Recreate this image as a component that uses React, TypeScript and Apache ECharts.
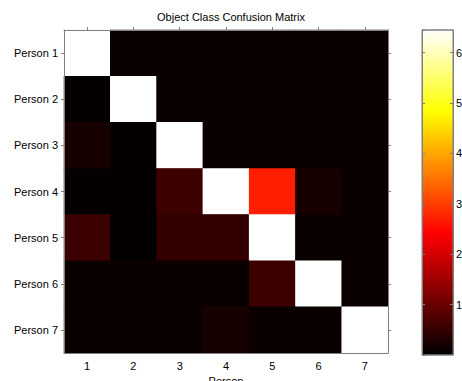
import React, { useEffect, useRef } from "react";
import * as echarts from "echarts";

const rowLabels = ["Person 1", "Person 2", "Person 3", "Person 4", "Person 5", "Person 6", "Person 7"];
const colLabels = ["1", "2", "3", "4", "5", "6", "7"];
const row1 = [6.45, 0.1, 0.1, 0.1, 0.1, 0.1, 0.1];
const row2 = [0.05, 6.45, 0.1, 0.1, 0.1, 0.1, 0.1];
const row3 = [0.22, 0.05, 6.45, 0.1, 0.1, 0.1, 0.1];
const row4 = [0.05, 0.05, 0.58, 6.45, 2.7, 0.22, 0.1];
const row5 = [0.58, 0.05, 0.48, 0.48, 6.45, 0.1, 0.1];
const row6 = [0.1, 0.1, 0.1, 0.1, 0.58, 6.45, 0.1];
const row7 = [0.1, 0.1, 0.1, 0.22, 0.1, 0.1, 6.45];
const matrix = [row1, row2, row3, row4, row5, row6, row7];
const colorMin = 0;
const colorMax = 6.45;
const hotColors = ["#000000", "#550000", "#aa0000", "#ff0000", "#ff5500", "#ffaa00", "#ffff00", "#ffff80", "#ffffff"];

const FONT = "Liberation Sans, Arial, sans-serif";
const GRAY = "#7f7f7f";

export default function App() {
  const ref = useRef<HTMLDivElement>(null);
  useEffect(() => {
    if (!ref.current) return;
    const chart = echarts.init(ref.current, null, { renderer: "svg" });
    const data: number[][] = [];
    matrix.forEach((row, r) => row.forEach((v, c) => data.push([c, r, v])));
    const cb = { left: 422, top: 30, width: 31, height: 325 };
    const gradStops = hotColors.map((c, i) => ({ offset: 1 - i / (hotColors.length - 1), color: c }));
    chart.setOption({
      animation: false,
      backgroundColor: "#ffffff",
      textStyle: { fontFamily: FONT },
      title: {
        text: "Object Class Confusion Matrix",
        left: 226,
        top: 6,
        textAlign: "center",
        textStyle: { fontSize: 11, fontWeight: "normal", color: "#000", fontFamily: FONT },
      },
      grid: [
        {
          left: 64, top: 30, width: 324, height: 323,
          containLabel: false, outerBoundsMode: "none",
          show: true, backgroundColor: "#0a0000", borderWidth: 0,
        },
        {
          left: cb.left, top: cb.top, width: cb.width, height: cb.height,
          containLabel: false, outerBoundsMode: "none",
        },
      ],
      xAxis: [
        {
          type: "category",
          data: colLabels,
          gridIndex: 0,
          position: "bottom",
          axisLine: { show: true, lineStyle: { color: GRAY, width: 1 } },
          axisTick: { show: false },
          axisLabel: { fontSize: 11, color: "#000", margin: 7, fontFamily: FONT },
          name: "Person",
          nameLocation: "middle",
          nameGap: 21,
          nameTextStyle: { fontSize: 11, color: "#000", fontFamily: FONT },
          splitLine: { show: false },
          z: 5,
        },
        {
          type: "category",
          data: colLabels,
          gridIndex: 0,
          position: "top",
          axisLine: { show: true, lineStyle: { color: GRAY, width: 1 } },
          axisTick: { show: true, alignWithLabel: true, inside: false, length: 3, lineStyle: { color: GRAY } },
          axisLabel: { show: false },
          splitLine: { show: false },
          z: 5,
        },
        { type: "category", data: ["c"], gridIndex: 1, show: false },
      ],
      yAxis: [
        {
          type: "category",
          data: rowLabels,
          inverse: true,
          gridIndex: 0,
          position: "left",
          axisLine: { show: true, lineStyle: { color: GRAY, width: 1 } },
          axisTick: { show: true, alignWithLabel: true, inside: false, length: 3, lineStyle: { color: GRAY } },
          axisLabel: { fontSize: 11, color: "#000", margin: 6, fontFamily: FONT },
          splitLine: { show: false },
          z: 5,
        },
        {
          type: "category",
          data: rowLabels,
          inverse: true,
          gridIndex: 0,
          position: "right",
          axisLine: { show: true, lineStyle: { color: GRAY, width: 1 } },
          axisTick: { show: true, alignWithLabel: true, inside: false, length: 3, lineStyle: { color: GRAY } },
          axisLabel: { show: false },
          splitLine: { show: false },
          z: 5,
        },
        {
          type: "value",
          gridIndex: 1,
          position: "right",
          offset: 0,
          min: colorMin,
          max: colorMax,
          interval: 1,
          axisLine: { show: true, onZero: false, lineStyle: { color: GRAY, width: 1 } },
          axisTick: { show: true, inside: true, length: 3, lineStyle: { color: GRAY } },
          axisLabel: {
            fontSize: 11,
            color: "#000",
            margin: 3,
            fontFamily: FONT,
            showMaxLabel: false,
            showMinLabel: false,
            formatter: (v: number) => (Number.isInteger(v) && v > 0 ? String(v) : ""),
          },
          splitLine: { show: false },
          z: 5,
        },
        {
          type: "value",
          gridIndex: 1,
          position: "left",
          offset: 0,
          min: colorMin,
          max: colorMax,
          interval: 1,
          axisLine: { show: true, onZero: false, lineStyle: { color: GRAY, width: 1 } },
          axisTick: { show: true, inside: true, length: 3, lineStyle: { color: GRAY } },
          axisLabel: { show: false },
          splitLine: { show: false },
          z: 5,
        },
      ],
      visualMap: {
        show: false,
        type: "continuous",
        min: colorMin,
        max: colorMax,
        seriesIndex: 0,
        inRange: { color: hotColors },
      },
      graphic: [
        {
          type: "rect",
          z: -1,
          shape: { x: cb.left, y: cb.top, width: cb.width, height: cb.height },
          style: {
            fill: new echarts.graphic.LinearGradient(0, 0, 0, 1, gradStops.slice().reverse()),
            stroke: GRAY,
            lineWidth: 1,
          },
        },
        {
          type: "line",
          z: 10,
          shape: { x1: cb.left, y1: cb.top, x2: cb.left + cb.width, y2: cb.top },
          style: { stroke: GRAY, lineWidth: 1 },
        },
        {
          type: "line",
          z: 10,
          shape: { x1: cb.left, y1: cb.top + cb.height, x2: cb.left + cb.width, y2: cb.top + cb.height },
          style: { stroke: GRAY, lineWidth: 1 },
        },
      ],
      series: [
        {
          type: "heatmap",
          xAxisIndex: 0,
          yAxisIndex: 0,
          data,
          itemStyle: { borderWidth: 0 },
          emphasis: { disabled: true },
          z: 1,
        },
      ],
    });
    return () => chart.dispose();
  }, []);
  return <div ref={ref} style={{ position: "fixed", left: 0, top: 0, width: 462, height: 381 }} />;
}
